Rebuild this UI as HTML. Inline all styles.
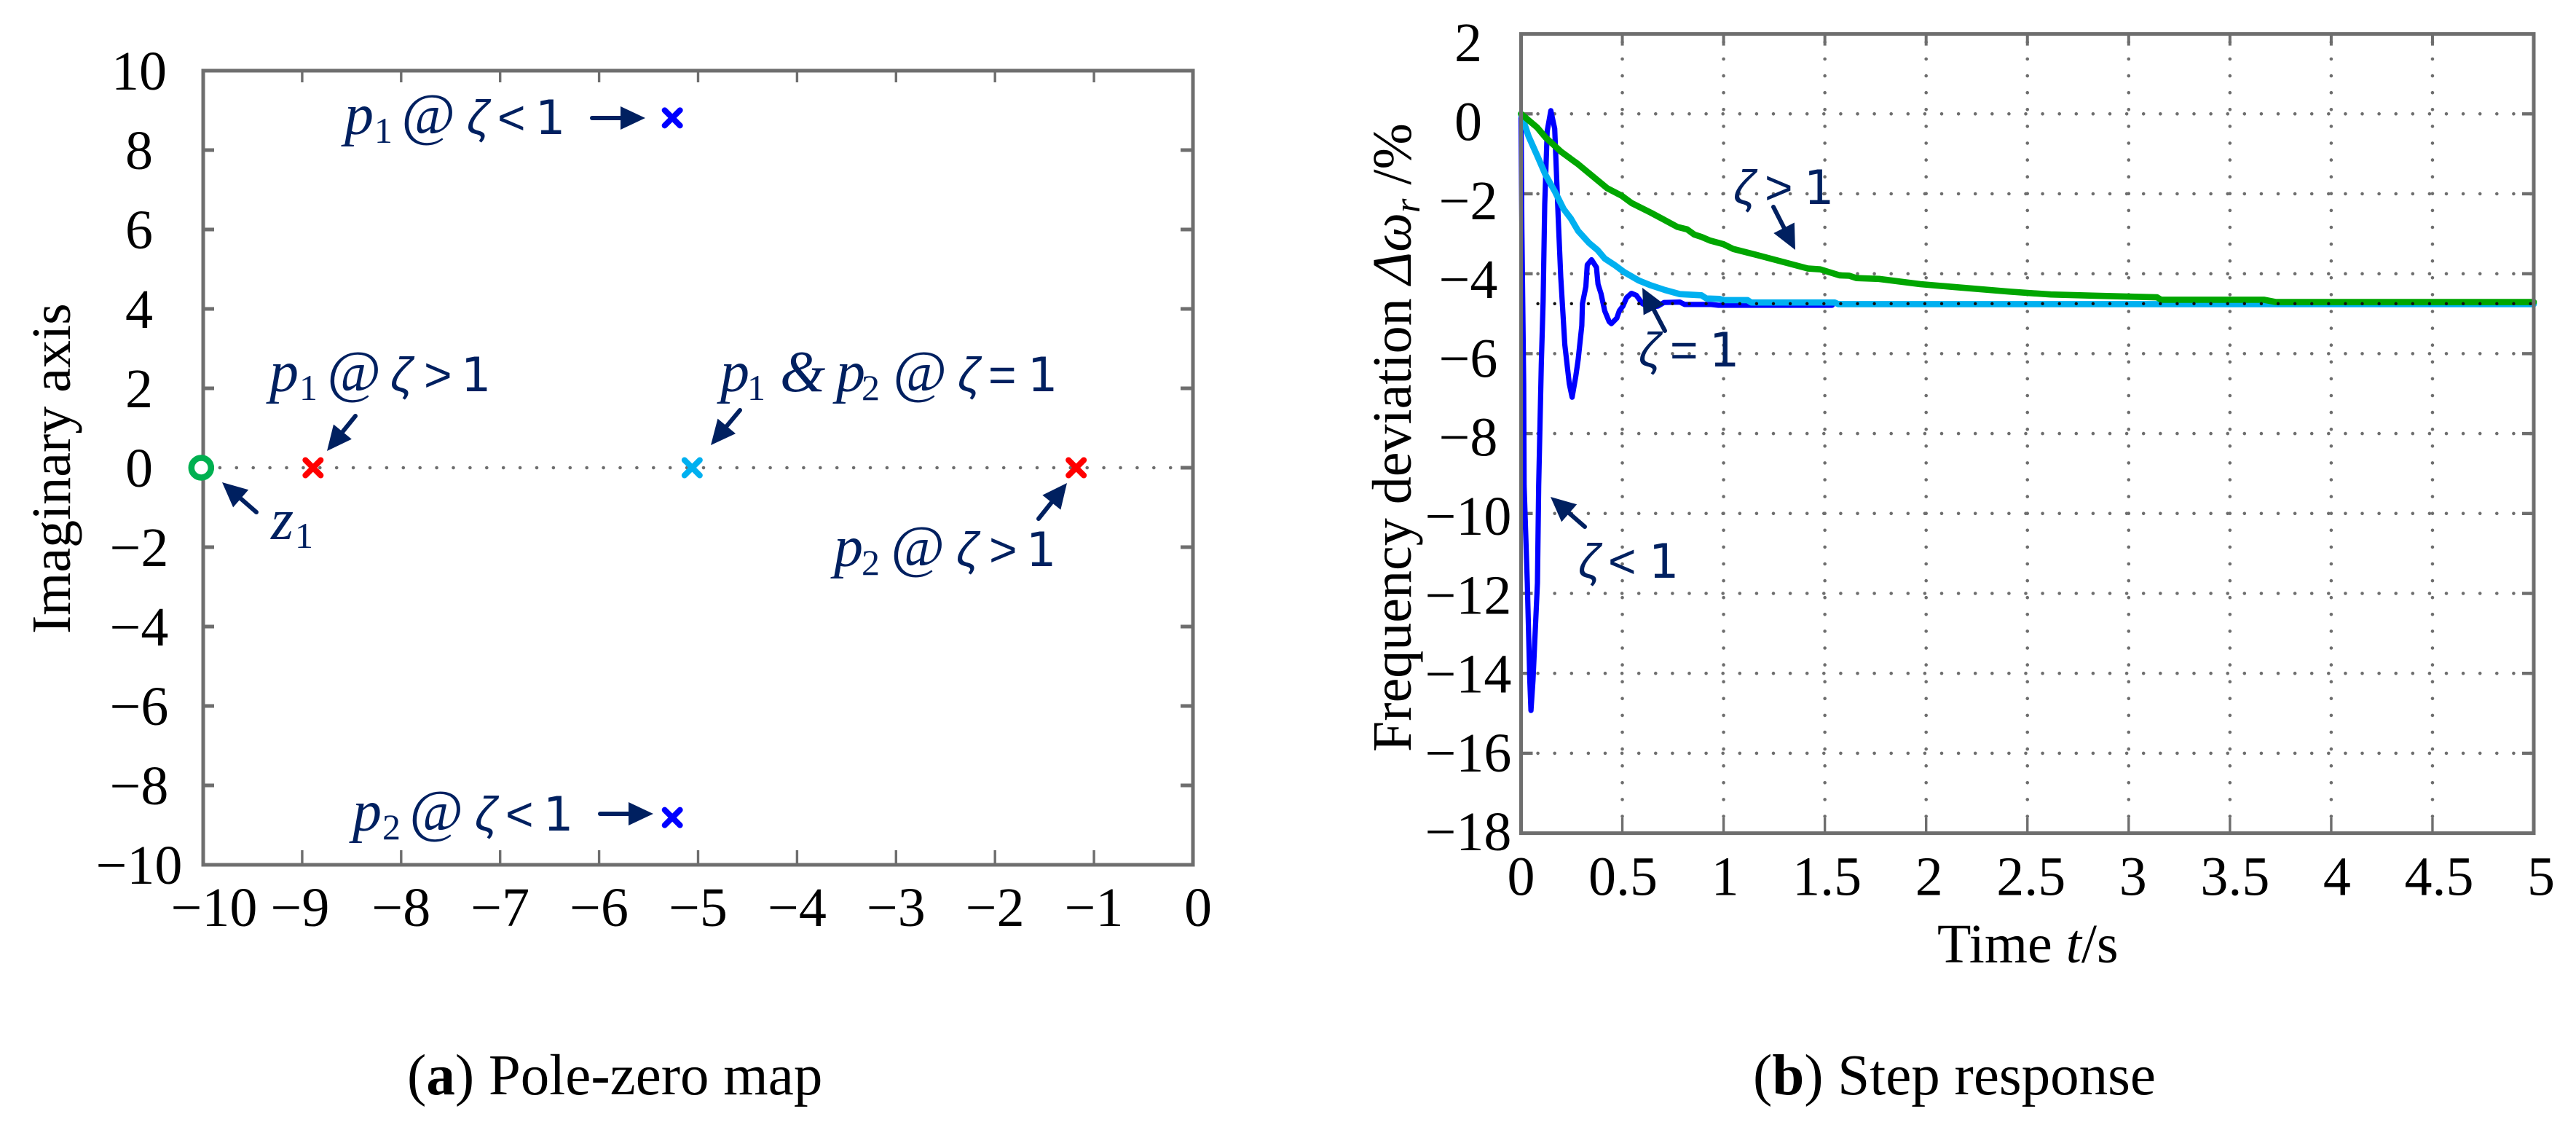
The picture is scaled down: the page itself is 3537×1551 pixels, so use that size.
<!DOCTYPE html>
<html lang="en">
<head>
<meta charset="utf-8">
<title>Pole-zero map and step response</title>
<style>
html,body{margin:0;padding:0;background:#fff;}
svg{display:block;position:absolute;left:0;top:0;}
text{font-family:"Liberation Serif",serif;fill:#000;font-size:76px;}
.nav{fill:#002060;}
.nav .p{font-family:"Liberation Serif",serif;font-style:italic;font-size:80px;}
.nav .s{font-family:"Liberation Serif",serif;font-size:50px;}
.nav .z{font-family:"Liberation Sans",sans-serif;font-style:italic;font-size:66px;}
.nav .o{font-family:"Liberation Sans",sans-serif;font-size:66px;}
.nav .d{font-family:"DejaVu Sans",sans-serif;font-size:65px;}
</style>
</head>
<body>
<svg id="fig" xmlns="http://www.w3.org/2000/svg" width="3537" height="1551" viewBox="0 0 3537 1551">
  <rect x="0" y="0" width="3537" height="1551" fill="#ffffff"/>
  <g id="polePlot"></g>
  <g id="stepPlot"></g>
  <g id="arrows"></g>

  <text transform="translate(96 870) rotate(-90)">Imaginary axis</text>
  <text transform="translate(1937 1032) rotate(-90)">Frequency deviation <tspan font-style="italic">Δω</tspan><tspan font-style="italic" font-size="50" dy="12">r</tspan><tspan dy="-12"> /%</tspan></text>
  <text x="2660" y="1321">Time <tspan font-style="italic">t</tspan>/s</text>
  <text x="559" y="1502" font-size="79" style="font-size:79px">(<tspan font-weight="bold">a</tspan>) Pole-zero map</text>
  <text x="2407" y="1502" font-size="79" style="font-size:79px">(<tspan font-weight="bold">b</tspan>) Step response</text>

  <text class="nav" y="184"><tspan class="p" x="473" y="184">p</tspan><tspan class="s" x="514" y="196">1</tspan><tspan class="p" x="551" y="184">@</tspan><tspan class="z" x="641" y="184">ζ</tspan><tspan class="o" x="683" y="184">&lt;</tspan><tspan class="d" x="735" y="184">1</tspan></text>
  <text class="nav" y="1140"><tspan class="p" x="484" y="1140">p</tspan><tspan class="s" x="525" y="1152">2</tspan><tspan class="p" x="562" y="1140">@</tspan><tspan class="z" x="652" y="1140">ζ</tspan><tspan class="o" x="694" y="1140">&lt;</tspan><tspan class="d" x="746" y="1140">1</tspan></text>
  <text class="nav" y="537"><tspan class="p" x="370" y="537">p</tspan><tspan class="s" x="411" y="549">1</tspan><tspan class="p" x="449" y="537">@</tspan><tspan class="z" x="536" y="537">ζ</tspan><tspan class="o" x="582" y="537">&gt;</tspan><tspan class="d" x="633" y="537">1</tspan></text>
  <text class="nav" y="537"><tspan class="p" x="989" y="537">p</tspan><tspan class="s" x="1026" y="549">1</tspan><tspan class="p" x="1071" y="537">&amp;</tspan><tspan class="p" x="1148" y="537">p</tspan><tspan class="s" x="1183" y="549">2</tspan><tspan class="p" x="1226" y="537">@</tspan><tspan class="z" x="1315" y="537">ζ</tspan><tspan class="o" x="1357" y="537">=</tspan><tspan class="d" x="1411" y="537">1</tspan></text>
  <text class="nav" y="777"><tspan class="p" x="1145" y="777">p</tspan><tspan class="s" x="1183" y="789">2</tspan><tspan class="p" x="1223" y="777">@</tspan><tspan class="z" x="1313" y="777">ζ</tspan><tspan class="o" x="1358" y="777">&gt;</tspan><tspan class="d" x="1409" y="777">1</tspan></text>
  <text class="nav" y="740"><tspan class="p" x="372" y="740">z</tspan><tspan class="s" x="405" y="752">1</tspan></text>

  <text class="nav" y="280"><tspan class="z" x="2380" y="280">ζ</tspan><tspan class="o" x="2423" y="280">&gt;</tspan><tspan class="d" x="2477" y="280">1</tspan></text>
  <text class="nav" y="503"><tspan class="z" x="2250" y="503">ζ</tspan><tspan class="o" x="2293" y="503">=</tspan><tspan class="d" x="2347" y="503">1</tspan></text>
  <text class="nav" y="793"><tspan class="z" x="2167" y="793">ζ</tspan><tspan class="o" x="2208" y="793">&lt;</tspan><tspan class="d" x="2264" y="793">1</tspan></text>
</svg>
<script>
// ---------- pole-zero map data ----------
var poleReal = [-5.26, -5.26, -8.89, -1.18, -5.06];
var poleImag = [8.81, -8.81, 0, 0, 0];
var poleKinds = ['underdamped-1', 'underdamped-2', 'overdamped-1', 'overdamped-2', 'critical'];
var zeroReal = [-10.02];
var zeroImag = [0];
var poleXTicks = [-10, -9, -8, -7, -6, -5, -4, -3, -2, -1, 0];
var poleYTicks = [10, 8, 6, 4, 2, 0, -2, -4, -6, -8, -10];

// ---------- step response data ----------
var stepXTicks = [0, 0.5, 1, 1.5, 2, 2.5, 3, 3.5, 4, 4.5, 5];
var stepYTicks = [2, 0, -2, -4, -6, -8, -10, -12, -14, -16, -18];
var steadyState = [-4.75];

var underT = [0, .004, .013, .015, .031, .043, .049, .059, .081, .087, .100, .109, .117, .129, .147, .166, .184, .196, .216, .238, .252, .270, .282, .300, .303, .320, .327, .348, .372, .380, .395, .413, .435, .446, .473, .485, .503, .521, .545, .569, .599, .640, .676, .706, .784, .808, .939, .975, 1.536];
var underV = [0, -2.87, -6.75, -9.30, -11.74, -14.17, -14.93, -14.17, -11.74, -9.30, -6.27, -4.69, -2.26, -.43, .08, -.37, -2.68, -4.08, -5.78, -6.75, -7.09, -6.57, -6.15, -5.30, -4.75, -4.32, -3.78, -3.65, -3.84, -4.26, -4.50, -4.93, -5.20, -5.25, -5.11, -4.93, -4.81, -4.60, -4.49, -4.54, -4.75, -4.84, -4.81, -4.72, -4.71, -4.77, -4.77, -4.79, -4.79];

var criticalT = [0, .037, .079, .121, .168, .21, .246, .282, .336, .378, .413, .461, .509, .581, .640, .712, .784, .891, .915, .981, .999, 1.118, 1.136, 1.548, 1.566, 5];
var criticalV = [0, -.56, -1.04, -1.53, -1.95, -2.38, -2.62, -2.93, -3.23, -3.41, -3.62, -3.78, -3.96, -4.17, -4.29, -4.41, -4.51, -4.54, -4.62, -4.63, -4.66, -4.66, -4.72, -4.72, -4.76, -4.76];

var overT = [0, .079, .121, .198, .282, .425, .497, .545, .640, .772, .820, .855, .891, .933, .999, 1.047, 1.178, 1.417, 1.477, 1.572, 1.620, 1.656, 1.767, 1.971, 2.132, 2.416, 2.616, 2.839, 3.14, 3.16, 3.667, 3.727, 5];
var overV = [0, -.34, -.59, -.95, -1.26, -1.86, -2.05, -2.23, -2.47, -2.83, -2.89, -3.02, -3.08, -3.17, -3.26, -3.38, -3.55, -3.87, -3.89, -4.04, -4.05, -4.11, -4.13, -4.26, -4.33, -4.45, -4.52, -4.55, -4.59, -4.65, -4.65, -4.71, -4.71];

// ---------- axis functions ----------
function poleX(v) { return 1638 + 135.9 * v; }
function poleY(v) { return 642 - 54.5 * v; }
function stepX(t) { return 2088.5 + 278.1 * t; }
function stepY(v) { return 156.3 - 54.85 * v; }

var NS = 'http://www.w3.org/2000/svg';
var AXIS = '#6e6e6e';
var NAVY = '#002060';
var DOT = '#6e6e6e';

function make(parent, tag, attrs) {
  var e = document.createElementNS(NS, tag);
  for (var k in attrs) { e.setAttribute(k, attrs[k]); }
  parent.appendChild(e);
  return e;
}
function num(v) { return String(v).replace('-', '\u2212'); }

var polePlot = document.getElementById('polePlot');
var stepPlot = document.getElementById('stepPlot');
var arrows = document.getElementById('arrows');

// ---------- pole-zero map ----------
(function () {
  var L = poleX(-10), R = poleX(0), T = poleY(10), B = poleY(-10);

  var zeroLine = make(polePlot, 'line', {x1: L, y1: poleY(0), x2: R, y2: poleY(0), stroke: DOT, 'stroke-width': 4.6, 'stroke-linecap': 'round', 'stroke-dasharray': '0 22.9'});
  
  

  poleXTicks.forEach(function (v) {
    var x = poleX(v);
    if (v !== -10 && v !== 0) {
      var bt = make(polePlot, 'line', {x1: x, y1: B, x2: x, y2: B - 20, stroke: AXIS, 'stroke-width': 3.4});
      
      
      var tt = make(polePlot, 'line', {x1: x, y1: T, x2: x, y2: T + 16, stroke: AXIS, 'stroke-width': 3.4});
      
      
    }
    var nudge = v === -10 ? 15 : (v === 0 ? 7 : (v === -9 ? -3 : 0));
    var lb = make(polePlot, 'text', {x: x + nudge, y: 1271, 'text-anchor': 'middle'});
    lb.textContent = num(v);
    
    
  });

  poleYTicks.forEach(function (v) {
    var y = poleY(v);
    if (v !== 10 && v !== -10) {
      var lt = make(polePlot, 'line', {x1: L, y1: y, x2: L + 15, y2: y, stroke: AXIS, 'stroke-width': 5});
      
      
      var rt = make(polePlot, 'line', {x1: R, y1: y, x2: R - 17, y2: y, stroke: AXIS, 'stroke-width': 5});
      
      
    }
    var lb = make(polePlot, 'text', {x: 191, y: y + 26, 'text-anchor': 'middle'});
    lb.textContent = num(v);
    
    
  });

  var box = make(polePlot, 'rect', {x: L, y: T, width: R - L, height: B - T, fill: 'none', stroke: AXIS, 'stroke-width': 5});
  
  

  var colors = ['#0000ff', '#0000ff', '#ff0000', '#ff0000', '#00b0f0'];
  poleReal.forEach(function (re, i) {
    var cx = poleX(re), cy = poleY(poleImag[i]), r = 10.5;
    var mk = make(polePlot, 'path', {d: 'M' + (cx - r) + ' ' + (cy - r) + 'L' + (cx + r) + ' ' + (cy + r) + 'M' + (cx + r) + ' ' + (cy - r) + 'L' + (cx - r) + ' ' + (cy + r), stroke: colors[i], 'stroke-width': 8, fill: 'none', 'stroke-linecap': 'round'});
    
    
  });
  zeroReal.forEach(function (re, i) {
    var zm = make(polePlot, 'circle', {cx: poleX(re), cy: poleY(zeroImag[i]), r: 13.5, fill: '#fff', stroke: '#00b050', 'stroke-width': 8.5});
    
    
  });
})();

// ---------- step response ----------
(function () {
  var L = stepX(0), R = stepX(5), T = stepY(2), B = stepY(-18);
  var pitch = '0 23.1';

  stepXTicks.forEach(function (t) {
    var x = stepX(t);
    if (t !== 0 && t !== 5) {
      var g = make(stepPlot, 'line', {x1: x, y1: B, x2: x, y2: T, stroke: DOT, 'stroke-width': 4.6, 'stroke-linecap': 'round', 'stroke-dasharray': pitch});
      
      
      var bt = make(stepPlot, 'line', {x1: x, y1: B, x2: x, y2: B - 21, stroke: AXIS, 'stroke-width': 3.4});
      
      
      var tt = make(stepPlot, 'line', {x1: x, y1: T, x2: x, y2: T + 16, stroke: AXIS, 'stroke-width': 4});
      
      
    }
    var lb = make(stepPlot, 'text', {x: L + 280.1 * t, y: 1228.6, 'text-anchor': 'middle'});
    lb.textContent = String(t);
    
    
  });

  stepYTicks.forEach(function (v) {
    var y = stepY(v);
    if (v !== 2 && v !== -18) {
      var g = make(stepPlot, 'line', {x1: L, y1: y, x2: R, y2: y, stroke: DOT, 'stroke-width': 4.6, 'stroke-linecap': 'round', 'stroke-dasharray': pitch});
      
      
      var lt = make(stepPlot, 'line', {x1: L, y1: y, x2: L + 16, y2: y, stroke: AXIS, 'stroke-width': 4.4});
      
      
      var rt = make(stepPlot, 'line', {x1: R, y1: y, x2: R - 16, y2: y, stroke: AXIS, 'stroke-width': 4.4});
      
      
    }
    var lb = make(stepPlot, 'text', {x: 2016, y: 166.5 - 54.15 * v + 26, 'text-anchor': 'middle'});
    lb.textContent = num(v);
    
    
  });

  function pts(ts, vs) {
    return ts.map(function (t, i) { return stepX(t).toFixed(1) + ',' + stepY(vs[i]).toFixed(1); }).join(' ');
  }
  var blue = make(stepPlot, 'polyline', {points: pts(underT, underV), fill: 'none', stroke: '#0000ff', 'stroke-width': 7.2, 'stroke-linejoin': 'round', 'stroke-linecap': 'round'});
  
  
  var cyan = make(stepPlot, 'polyline', {points: pts(criticalT, criticalV), fill: 'none', stroke: '#00b0f0', 'stroke-width': 8.6, 'stroke-linejoin': 'round', 'stroke-linecap': 'round'});
  
  
  var green = make(stepPlot, 'polyline', {points: pts(overT, overV), fill: 'none', stroke: '#00a600', 'stroke-width': 8.6, 'stroke-linejoin': 'round', 'stroke-linecap': 'round'});
  
  

  var ss = make(stepPlot, 'line', {x1: L, y1: stepY(steadyState[0]), x2: R, y2: stepY(steadyState[0]), stroke: '#111111', 'stroke-width': 4.4, 'stroke-linecap': 'round', 'stroke-dasharray': pitch});
  
  

  var box = make(stepPlot, 'rect', {x: L, y: T, width: R - L, height: B - T, fill: 'none', stroke: AXIS, 'stroke-width': 5});
  
  
})();

// ---------- annotation arrows: tail x, tail y, tip x, tip y ----------
function arrow(x1, y1, x2, y2) {
  var dx = x2 - x1, dy = y2 - y1, len = Math.sqrt(dx * dx + dy * dy);
  var ux = dx / len, uy = dy / len, hl = 34, hw = 16;
  var bx = x2 - ux * hl, by = y2 - uy * hl;
  var line = make(arrows, 'line', {x1: x1, y1: y1, x2: bx, y2: by, stroke: NAVY, 'stroke-width': 6, 'stroke-linecap': 'round'});
  
  
  var head = make(arrows, 'polygon', {points: x2 + ',' + y2 + ' ' + (bx - uy * hw) + ',' + (by + ux * hw) + ' ' + (bx + uy * hw) + ',' + (by - ux * hw), fill: NAVY});
  
  
}
arrow(813, 162, 886, 162);
arrow(824, 1117, 897, 1117);
arrow(488, 571, 449, 619);
arrow(1016, 563, 976, 611);
arrow(1426, 712, 1465, 663);
arrow(352, 703, 305, 662);
arrow(2435, 284, 2465, 343);
arrow(2286, 454, 2255, 395);
arrow(2176, 723, 2129, 682);
</script>
</body>
</html>
